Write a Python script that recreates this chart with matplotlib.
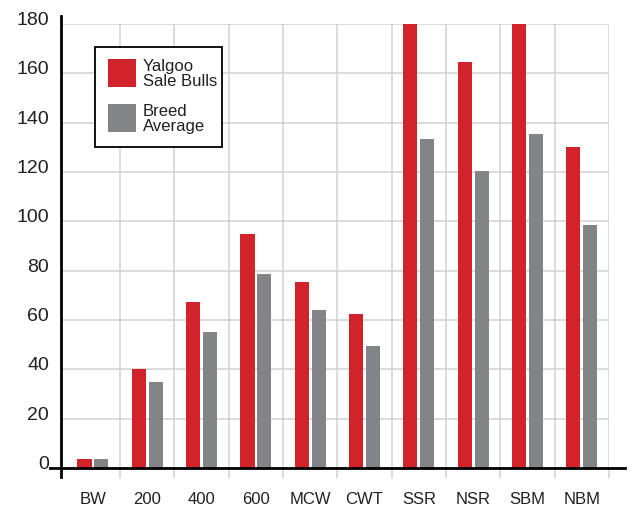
import matplotlib
matplotlib.use('Agg')
import matplotlib.pyplot as plt
from matplotlib.lines import Line2D
from matplotlib.patches import Rectangle
import numpy as np

plt.rcParams['font.family'] = ['Liberation Sans', 'DejaVu Sans']

# Data
categories = ['BW', '200', '400', '600', 'MCW', 'CWT', 'SSR', 'NSR', 'SBM', 'NBM']
yalgoo_sale_bulls = [3.5, 40, 67.5, 95, 75.5, 62.5, 185, 164.5, 185, 130]
breed_average = [3.5, 35, 55, 78.5, 64, 49.5, 133.5, 120.5, 135.5, 98.5]
y_ticks = [0, 20, 40, 60, 80, 100, 120, 140, 160, 180]
legend_labels = ['Yalgoo\nSale Bulls', 'Breed\nAverage']

RED = '#D2232A'
GREY = '#838488'
GRID = '#D2D2D2'
TXT = '#231F20'

W, H = 633, 506
fig = plt.figure(figsize=(W / 100, H / 100), dpi=100)


def fx(px):
    return px / W


def fy(py):
    return 1 - py / H


# axes box in pixel coords of the reference
left, right, top, bottom = 61, 609, 25, 469
ax = fig.add_axes([fx(left), fy(bottom), (right - left) / W, (bottom - top) / H])

x = np.arange(len(categories))
bw = 0.26
off = 0.155
ax.bar(x - off, yalgoo_sale_bulls, bw, color=RED, zorder=2)
ax.bar(x + off, breed_average, bw, color=GREY, zorder=2)

unit = (right - left) / 10.087
ax.set_xlim(9.5 - (right - left) / unit, 9.5)
ax.set_ylim(0, 180)

for s in ax.spines.values():
    s.set_visible(False)

# grid
ax.set_yticks(y_ticks)
ax.grid(axis='y', color=GRID, linewidth=1.1, zorder=0)
ax.set_xticks(np.arange(0.5, 10, 1.0))
ax.set_xticklabels([])
ax.grid(axis='x', which='major', color=GRID, linewidth=1.1, zorder=0)
ax.tick_params(axis='x', which='major', length=7.2, width=1.1, color=GRID, direction='out')
ax.set_xticks(x, labels=categories, minor=True)
ax.tick_params(axis='x', which='minor', length=0, pad=16.5, labelsize=12, labelcolor=TXT)
ax.tick_params(axis='y', length=0, pad=8.6, labelsize=14, labelcolor=TXT)
for lbl in ax.get_yticklabels():
    lbl.set_va('baseline')
ax.set_axisbelow(True)

# heavy axis lines, extended past the plot area like the original
fig.add_artist(Line2D([fx(left), fx(left)], [fy(17), fy(478)],
                      color='black', linewidth=2.0, transform=fig.transFigure))
fig.add_artist(Line2D([fx(50), fx(625)], [fy(bottom), fy(bottom)],
                      color='black', linewidth=2.0, transform=fig.transFigure))

# legend box drawn by hand
fig.add_artist(Rectangle((fx(95), fy(148)), fx(222) - fx(95), fy(48) - fy(148),
                         transform=fig.transFigure, facecolor='white',
                         edgecolor='black', linewidth=1.3, zorder=5))
for color, label, y0 in zip([RED, GREY], legend_labels, [60, 105]):
    fig.add_artist(Rectangle((fx(108), fy(y0 + 28)), fx(136) - fx(108), fy(y0) - fy(y0 + 28),
                             transform=fig.transFigure, facecolor=color,
                             edgecolor='none', zorder=6))
    fig.text(fx(143), fy(y0 + 14), label, fontsize=12, color=TXT,
             va='center', ha='left', linespacing=1.0, zorder=7)

fig.savefig('out.png', dpi=100)
